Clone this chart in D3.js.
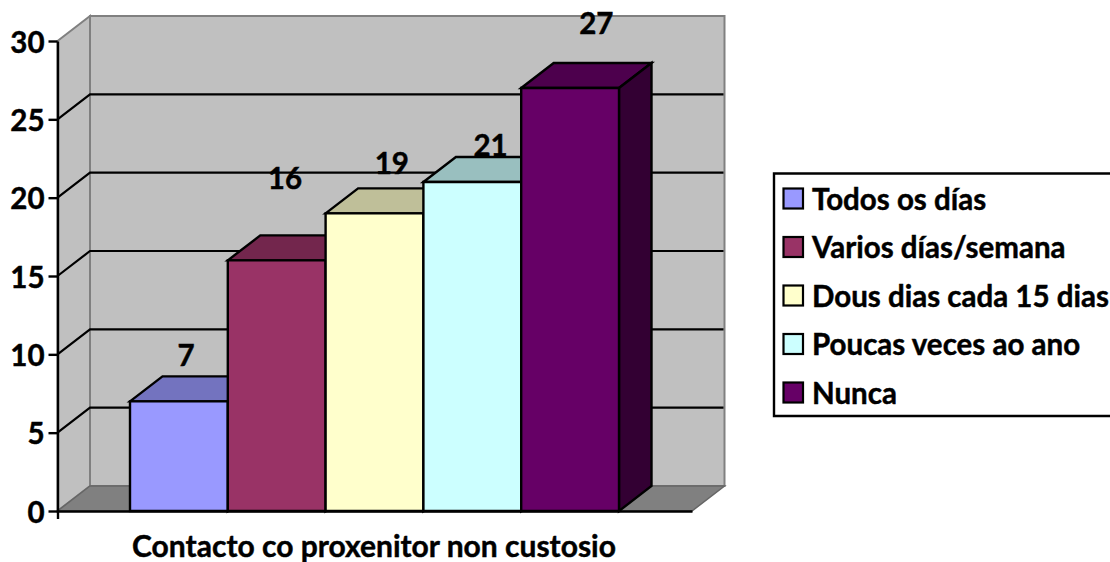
<!DOCTYPE html>
<html>
<head>
<meta charset="utf-8">
<script src="https://cdn.jsdelivr.net/npm/d3@7"></script>
<style>
  html, body { margin: 0; padding: 0; background: #fff; overflow: hidden; }
  svg { display: block; }
  text { font-family: Lato, "Open Sans", sans-serif; font-weight: 700; fill: #000; stroke: #000; stroke-width: 0.45px; }
</style>
</head>
<body>
<div id="chart"></div>
<script>
// chart values
const categories = ['Todos os días', 'Varios días/semana', 'Dous dias cada 15 dias', 'Poucas veces ao ano', 'Nunca'];
const values = [7, 16, 19, 21, 27];
const yTicks = [0, 5, 10, 15, 20, 25, 30];
const axisTitle = 'Contacto co proxenitor non custosio';

const colors = ['#9999ff', '#993366', '#ffffcc', '#ccffff', '#660066'];

// labels do not sit at a fixed distance from the bars in the original
const labelShift = [[-9, -19], [-8, -55], [1, -23], [2, -10], [10, -38]];

const width = 1110, height = 562;
const depth = {x: 32.5, y: -25};
const fontSize = '29.5px';

const svg = d3.select('#chart').append('svg')
  .attr('width', width)
  .attr('height', height);

const y = d3.scaleLinear().domain([0, 30]).range([511, 41]);
const x = d3.scaleBand().domain(categories).range([130, 619]);
const xAxisScale = d3.scaleLinear().domain([0, 1]).range([57.5, 692]);

const left = xAxisScale.range()[0], right = xAxisScale.range()[1];
const y0 = y(0), yTop = y(30);

function poly(points, fill, stroke, sw){
  svg.append('polygon')
    .attr('points', points.map(p => p.join(',')).join(' '))
    .attr('fill', fill)
    .attr('stroke', stroke)
    .attr('stroke-width', sw)
    .attr('stroke-linejoin', 'miter');
}

// walls + floor
poly([[left, yTop], [left + depth.x, yTop + depth.y], [left + depth.x, y0 + depth.y], [left, y0]], '#c0c0c0', '#808080', 2);
poly([[left + depth.x, yTop + depth.y], [right + depth.x, yTop + depth.y], [right + depth.x, y0 + depth.y], [left + depth.x, y0 + depth.y]], '#c0c0c0', '#808080', 2);
poly([[left, y0], [left + depth.x, y0 + depth.y], [right + depth.x, y0 + depth.y], [right, y0]], '#808080', '#666', 1.5);

// grid lines, running along side wall and back wall
yTicks.filter(t => t > 0 && t < 30).forEach(t => {
  svg.append('polyline')
    .attr('points', [[left, y(t)], [left + depth.x, y(t) + depth.y], [right + depth.x - 1, y(t) + depth.y]].map(p => p.join(',')).join(' '))
    .attr('fill', 'none')
    .attr('stroke', '#000')
    .attr('stroke-width', 2.2);
});

// bars, left to right so the next one hides the side of the last
categories.forEach((c, i) => {
  const x0 = x(c), x1 = x0 + x.bandwidth(), top = y(values[i]);
  const col = d3.color(colors[i]);
  poly([[x0, top], [x0 + depth.x, top + depth.y], [x1 + depth.x, top + depth.y], [x1, top]],
    d3.rgb(col.r * 0.75, col.g * 0.75, col.b * 0.75).formatHex(), '#000', 2.4);
  poly([[x1, top], [x1 + depth.x, top + depth.y], [x1 + depth.x, y0 + depth.y], [x1, y0]],
    d3.rgb(col.r * 0.5, col.g * 0.5, col.b * 0.5).formatHex(), '#000', 2.4);
  poly([[x0, top], [x1, top], [x1, y0], [x0, y0]], colors[i], '#000', 2.4);
});

// axes
const yAxis = svg.append('g')
  .attr('transform', `translate(${left},0)`)
  .call(d3.axisLeft(y).tickValues(yTicks).tickSize(9).tickSizeOuter(0).tickPadding(4));
yAxis.selectAll('text').style('font-size', fontSize).attr('fill', '#000').attr('dy', '0.34em').attr('y', 1).style('font-family', 'Lato');
yAxis.selectAll('line').attr('stroke', '#000').attr('stroke-width', 2.4);
yAxis.select('.domain').attr('stroke', '#000').attr('stroke-width', 2.4);

const xAxis = svg.append('g')
  .attr('transform', `translate(0,${y0})`)
  .call(d3.axisBottom(xAxisScale).tickValues([0]).tickFormat('').tickSize(8).tickSizeOuter(0));
xAxis.selectAll('line').attr('stroke', '#000').attr('stroke-width', 2.4);
xAxis.select('.domain').attr('stroke', '#000').attr('stroke-width', 2.4);

// value labels
svg.selectAll('.value')
  .data(values)
  .enter().append('text')
  .attr('class', 'value')
  .attr('text-anchor', 'middle')
  .style('font-size', fontSize)
  .attr('x', (d, i) => x(categories[i]) + x.bandwidth() / 2 + depth.x / 2 + labelShift[i][0])
  .attr('y', (d, i) => y(d) + depth.y + labelShift[i][1] + 9)
  .text(d => d);

// axis title
svg.append('text')
  .attr('x', 374)
  .attr('y', 556.5)
  .attr('text-anchor', 'middle')
  .style('font-size', '30px')
  .text(axisTitle);

// legend, its right edge runs off the picture
svg.append('path')
  .attr('d', 'M1110,173.5H774V416H1110')
  .attr('fill', '#fff')
  .attr('stroke', '#000')
  .attr('stroke-width', 2.4);

const legendY = d3.scalePoint().domain(categories).range([198.5, 392.5]);

categories.forEach((c, i) => {
  svg.append('rect')
    .attr('x', 783.5)
    .attr('y', legendY(c) - 10)
    .attr('width', 19.5)
    .attr('height', 20)
    .attr('fill', colors[i])
    .attr('stroke', '#000')
    .attr('stroke-width', 2.2);
  svg.append('text')
    .attr('x', 812)
    .attr('y', legendY(c) + 11)
    .style('font-size', fontSize)
    .text(c);
});
</script>
</body>
</html>
